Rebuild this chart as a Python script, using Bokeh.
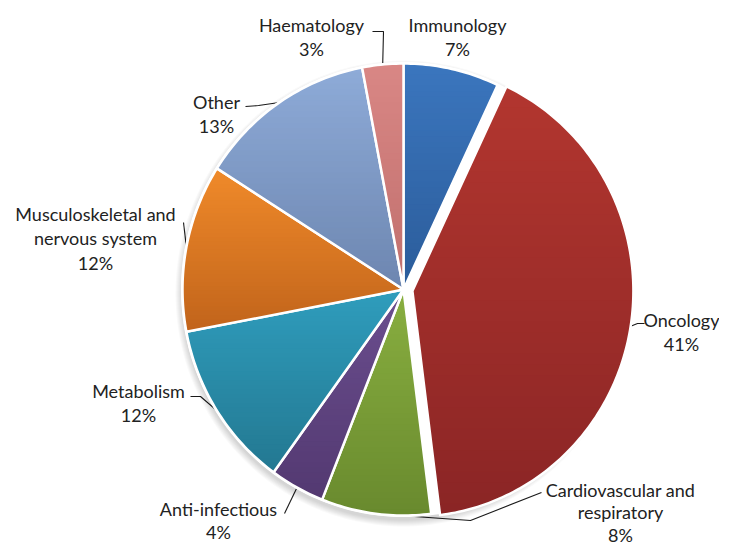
import numpy as np
from bokeh.plotting import figure
from bokeh.models import Range1d
from bokeh.embed import file_html
from bokeh.resources import INLINE
from bokeh.core.properties import value

# ---- data ----
categories = ["Immunology", "Oncology", "Cardiovascular and respiratory", "Anti-infectious",
              "Metabolism", "Musculoskeletal and nervous system", "Other", "Haematology"]
shares = [7, 41, 8, 4, 12, 12, 13, 3]
label_names = [["Immunology"], ["Oncology"], ["Cardiovascular and", "respiratory"], ["Anti-infectious"],
               ["Metabolism"], ["Musculoskeletal and", "nervous system"], ["Other"], ["Haematology"]]

# ---- styles / layout ----
top_colors = ["#3B76BE", "#B3362F", "#89AF40", "#6B4E8F", "#2F9DBD", "#F08A2A", "#8EABD8", "#D98785"]
bot_colors = ["#2B5C9A", "#8A2525", "#698A2E", "#533971", "#237891", "#C1641B", "#6D86B0", "#C06F6D"]
explode = [0, 9, 0, 0, 0, 0, 0, 0]
CX, CY, RX, RY = 403.0, 289.0, 221.0, 226.0
label_pos = [(457, 24), (681, 319), (620, 489), (218, 508), (138, 390), (95, 213), (216, 101), (311, 24)]
label_lh = [24.5, 24.5, 22.5, 23.5, 24.5, 24.5, 24.5, 24.5]
leader_anchor = [None, [(644, 323), (637, 323)], [(541, 492), (470, 520)], [(284, 513)],
                 [(190, 396), (200, 396)], [(183, 222)], [(245, 106), (258, 105)], [(372, 31), (383, 31)]]


def hex2rgb(h):
    h = h.lstrip("#")
    return np.array([int(h[i:i + 2], 16) for i in (0, 2, 4)], dtype=float)


def rgb2hex(c):
    c = np.clip(np.round(c), 0, 255).astype(int)
    return "#%02x%02x%02x" % tuple(c)


def clip_half(poly, y, keep_above):
    out = []
    n = len(poly)

    def inside(pt):
        return pt[1] >= y if keep_above else pt[1] <= y
    for i in range(n):
        a = poly[i]
        b = poly[(i + 1) % n]
        ia, ib = inside(a), inside(b)
        if ia:
            out.append(a)
        if ia != ib:
            t = (y - a[1]) / (b[1] - a[1])
            out.append((a[0] + t * (b[0] - a[0]), y))
    return out


p = figure(width=719, height=544, x_range=Range1d(0, 719), y_range=Range1d(544, 0),
           output_backend="svg", toolbar_location=None, min_border=0,
           x_axis_location=None, y_axis_location=None)
p.grid.visible = False
p.outline_line_color = None
p.background_fill_color = "white"

total = float(sum(shares))
fracs = np.array(shares) / total
starts = np.concatenate([[0.0], np.cumsum(fracs)[:-1]]) * 2 * np.pi
ends = np.cumsum(fracs) * 2 * np.pi


def offset(i):
    mid = (starts[i] + ends[i]) / 2
    return explode[i] * np.sin(mid), -explode[i] * np.cos(mid)


# leader lines (drawn beneath pie)
for i in range(len(categories)):
    if leader_anchor[i] is None:
        continue
    mid = (starts[i] + ends[i]) / 2
    ox, oy = offset(i)
    ex = CX + ox + RX * np.sin(mid)
    ey = CY + oy - RY * np.cos(mid)
    xs = [a[0] for a in leader_anchor[i]] + [ex]
    ys = [a[1] for a in leader_anchor[i]] + [ey]
    p.line(xs, ys, line_color="#1a1a1a", line_width=1.1)

# soft shadow (outside the pie only)
th_full = np.linspace(0, 2 * np.pi, 240)
for k in range(7):
    d = 1 + k * 1.0
    p.patch(CX + (RX + d) * np.sin(th_full), CY + 4 + (RY + d) * np.cos(th_full),
            fill_color="black", fill_alpha=0.025, line_color=None)
p.patch(CX + (RX + 1.5) * np.sin(th_full), CY + (RY + 1.5) * np.cos(th_full),
        fill_color="white", line_color=None)

# slices with vertical gradient
for i in range(len(categories)):
    ox, oy = offset(i)
    n = max(4, int(np.degrees(ends[i] - starts[i])) + 2)
    th = np.linspace(starts[i], ends[i], n)
    poly = [(CX + ox, CY + oy)] + [(CX + ox + RX * np.sin(t), CY + oy - RY * np.cos(t)) for t in th]
    ys_all = [q[1] for q in poly]
    ymin, ymax = min(ys_all), max(ys_all)
    c0, c1 = hex2rgb(top_colors[i]), hex2rgb(bot_colors[i])
    nb = 40
    edges = np.linspace(ymin, ymax, nb + 1)
    bxs, bys, bcols = [], [], []
    for b in range(nb):
        q = clip_half(poly, edges[b] - 0.6, True)
        if len(q) < 3:
            continue
        q = clip_half(q, edges[b + 1] + 0.6, False)
        if len(q) < 3:
            continue
        t = (b + 0.5) / nb
        bxs.append([pt[0] for pt in q])
        bys.append([pt[1] for pt in q])
        bcols.append(rgb2hex(c0 + (c1 - c0) * t))
    p.patches(bxs, bys, fill_color=bcols, line_color=None)
    p.patch([q[0] for q in poly], [q[1] for q in poly], fill_color=None,
            line_color="white", line_width=2.5, line_join="round")

# labels
tx, ty, tt = [], [], []
for i in range(len(categories)):
    lines = label_names[i] + ["%d%%" % shares[i]]
    x0, y0 = label_pos[i]
    for j, s in enumerate(lines):
        tx.append(x0)
        ty.append(y0 + j * label_lh[i])
        tt.append(s)
p.text(x=tx, y=ty, text=tt, text_align="center", text_baseline="middle",
       text_font=value("Lato"), text_font_size="18px", text_color="#222222")

open("out.html", "w").write(file_html(p, INLINE))
